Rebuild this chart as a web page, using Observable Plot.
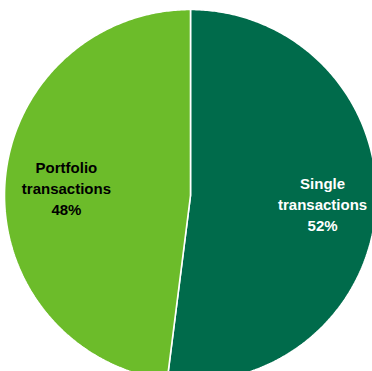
<!DOCTYPE html>
<html>
<head>
<meta charset="utf-8">
<script src="https://cdn.jsdelivr.net/npm/d3@7"></script>
<script src="https://cdn.jsdelivr.net/npm/@observablehq/plot@0.6"></script>
<style>
  html, body { margin: 0; padding: 0; background: #fff; overflow: hidden; }
  #chart svg { display: block; }
</style>
</head>
<body>
<div id="chart"></div>
<script>
// Share of transaction volume by type (%)
const categories = ["Single transactions", "Portfolio transactions"];
const shares = [52, 48];
const labelNames = ["Single\ntransactions", "Portfolio\ntransactions"];
const colors = ["#006B4B", "#6CBC2A"];
const labelColors = ["#ffffff", "#000000"];

const W = 372, H = 371;
// pie geometry in pixels: centre and radius (the disc runs past the frame)
const cx = 190, cy = 195, R = 186;

const rows = categories.map((c, i) => ({category: c, share: shares[i], name: labelNames[i], ink: labelColors[i]}));
const arcs = d3.pie().sort(null).value(d => d.share)(rows);

// slice outlines in unit-radius coordinates (angle 0 at top, clockwise)
const outline = [];
for (const a of arcs) {
  const n = Math.max(2, Math.ceil((a.endAngle - a.startAngle) / 0.01));
  outline.push({category: a.data.category, x: 0, y: 0});
  for (let k = 0; k <= n; ++k) {
    const t = a.startAngle + (a.endAngle - a.startAngle) * k / n;
    outline.push({category: a.data.category, x: Math.sin(t), y: Math.cos(t)});
  }
}

// label anchors at each slice's mid angle
const labelR = 0.69;
const labels = arcs.map(a => {
  const m = (a.startAngle + a.endAngle) / 2;
  return {
    x: Math.sin(m) * labelR,
    y: Math.cos(m) * labelR,
    text: `${a.data.name}\n${a.data.share}%`,
    ink: a.data.ink
  };
});

const chart = Plot.plot({
  width: W,
  height: H,
  margin: 0,
  style: {fontFamily: "'Liberation Sans', Arial, Helvetica, sans-serif", background: "#fff"},
  x: {domain: [-cx / R, (W - cx) / R], axis: null},
  y: {domain: [-(H - cy) / R, cy / R], axis: null},
  color: {domain: categories, range: colors},
  marks: [
    Plot.line(outline, {
      x: "x", y: "y", z: "category", fill: "category",
      stroke: "white", strokeWidth: 1.6, strokeLinejoin: "miter",
      curve: "linear-closed", clip: true
    }),
    Plot.text(labels, {
      x: "x", y: "y", text: "text", fill: "ink", dx: 4,
      fontSize: 15, fontWeight: "bold", lineHeight: 1.4,
      textAnchor: "middle", lineAnchor: "middle"
    })
  ]
});
document.getElementById("chart").append(chart);
</script>
</body>
</html>
